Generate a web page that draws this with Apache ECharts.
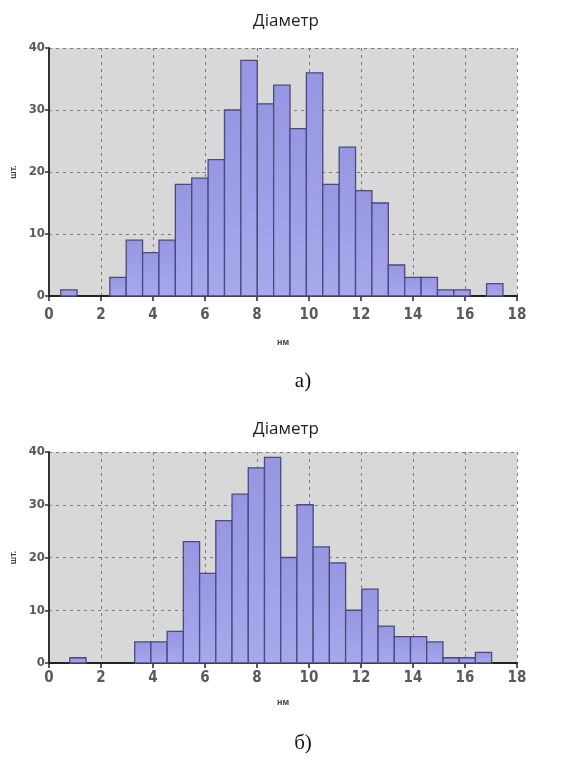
<!DOCTYPE html>
<html>
<head>
<meta charset="utf-8">
<script src="https://cdn.jsdelivr.net/npm/echarts@6/dist/echarts.min.js"></script>
<style>
html,body{margin:0;padding:0;background:#fff;}
#c{width:587px;height:760px;}
</style>
</head>
<body>
<div id="c"></div>
<script>
// ---- Data ----
const titleText = 'Діаметр';
const xAxisName = 'нм';
const yAxisName = 'шт.';
const captionA = 'а)';
const captionB = 'б)';

const xTicks = [0, 2, 4, 6, 8, 10, 12, 14, 16, 18];
const yTicks = [0, 10, 20, 30, 40];

// Histogram (a): first bin lower edge, bin width, counts
const binStartA = 0.45;
const binWidthA = 0.63;
const countsA = [1, 0, 0, 3, 9, 7, 9, 18, 19, 22, 30, 38, 31, 34, 27, 36, 18, 24, 17, 15, 5, 3, 3, 1, 1, 0, 2];

// Histogram (б)
const binStartB = 0.80;
const binWidthB = 0.624;
const countsB = [1, 0, 0, 0, 4, 4, 6, 23, 17, 27, 32, 37, 39, 20, 30, 22, 19, 10, 14, 7, 5, 5, 4, 1, 1, 2];

// ---- Build ----
function toBins(start, width, counts) {
  return counts.map((c, i) => [start + i * width, start + (i + 1) * width, c]);
}

const chart = echarts.init(document.getElementById('c'), null, {renderer: 'canvas'});

const labelFont = '"DejaVu Sans Condensed", "Liberation Sans", Arial, sans-serif';

function renderBar(params, api) {
  const v = api.value(2);
  if (!v) return null;
  const p0 = api.coord([api.value(0), v]);
  const p1 = api.coord([api.value(1), 0]);
  return {
    type: 'rect',
    shape: {x: p0[0], y: p0[1], width: p1[0] - p0[0], height: p1[1] - p0[1]},
    style: {
      fill: new echarts.graphic.LinearGradient(0, 0, 0, 1, [
        {offset: 0, color: '#9696e2'},
        {offset: 1, color: '#a8a8ee'}
      ]),
      stroke: '#4a4a7c',
      lineWidth: 1.3
    }
  };
}

function xAxisCfg(gridIndex, nameGap, labelMargin) {
  return {
    gridIndex: gridIndex,
    type: 'value',
    min: xTicks[0],
    max: xTicks[xTicks.length - 1],
    interval: xTicks[1] - xTicks[0],
    name: xAxisName,
    nameLocation: 'middle',
    nameGap: nameGap,
    nameTextStyle: {fontSize: 9, fontWeight: 'bold', color: '#444', fontFamily: 'Arial, sans-serif'},
    axisLine: {show: true, onZero: false, lineStyle: {color: '#222', width: 2}},
    axisTick: {show: true, length: 5, lineStyle: {color: '#222', width: 1.5}},
    axisLabel: {fontSize: 15, color: '#5a5a5a', fontWeight: 'bold', margin: labelMargin, fontFamily: labelFont},
    splitLine: {show: true, lineStyle: {color: '#7a7a7a', type: [3, 4], width: 1}}
  };
}

function yAxisCfg(gridIndex) {
  return {
    gridIndex: gridIndex,
    type: 'value',
    min: yTicks[0],
    max: yTicks[yTicks.length - 1],
    interval: yTicks[1] - yTicks[0],
    name: yAxisName,
    nameLocation: 'middle',
    nameGap: 27,
    nameRotate: 90,
    nameTextStyle: {fontSize: 9, fontWeight: 'bold', color: '#444', fontFamily: 'Arial, sans-serif'},
    axisLine: {show: true, lineStyle: {color: '#333', width: 2}},
    axisTick: {show: true, length: 4, lineStyle: {color: '#333', width: 1.5}},
    axisLabel: {fontSize: 13, color: '#5a5a5a', fontWeight: 'bold', margin: 4, fontFamily: labelFont},
    splitLine: {show: true, lineStyle: {color: '#7a7a7a', type: [3, 4], width: 1}}
  };
}

const gridStyle = {show: true, backgroundColor: '#d8d8d8', borderWidth: 0};

chart.setOption({
  animation: false,
  backgroundColor: '#ffffff',
  title: [
    {text: titleText, left: 281, top: 8, textAlign: 'center',
     textStyle: {fontSize: 17, fontWeight: 'normal', color: '#222', fontFamily: '"Open Sans", "Noto Sans", sans-serif'}},
    {text: titleText, left: 281, top: 416, textAlign: 'center',
     textStyle: {fontSize: 17, fontWeight: 'normal', color: '#222', fontFamily: '"Open Sans", "Noto Sans", sans-serif'}},
    {text: captionA, left: 298, top: 366, textAlign: 'center',
     textStyle: {fontSize: 21, fontWeight: 'normal', color: '#111', fontFamily: '"Liberation Serif", "Times New Roman", serif'}},
    {text: captionB, left: 298, top: 728, textAlign: 'center',
     textStyle: {fontSize: 21, fontWeight: 'normal', color: '#111', fontFamily: '"Liberation Serif", "Times New Roman", serif'}}
  ],
  grid: [
    Object.assign({left: 49, top: 48, width: 468, height: 248}, gridStyle),
    Object.assign({left: 49, top: 452, width: 468, height: 211}, gridStyle)
  ],
  xAxis: [xAxisCfg(0, 42, 12), xAxisCfg(1, 35, 8)],
  yAxis: [yAxisCfg(0), yAxisCfg(1)],
  series: [
    {type: 'custom', xAxisIndex: 0, yAxisIndex: 0, renderItem: renderBar,
     encode: {x: [0, 1], y: 2}, data: toBins(binStartA, binWidthA, countsA), clip: false},
    {type: 'custom', xAxisIndex: 1, yAxisIndex: 1, renderItem: renderBar,
     encode: {x: [0, 1], y: 2}, data: toBins(binStartB, binWidthB, countsB), clip: false}
  ]
});
</script>
</body>
</html>
